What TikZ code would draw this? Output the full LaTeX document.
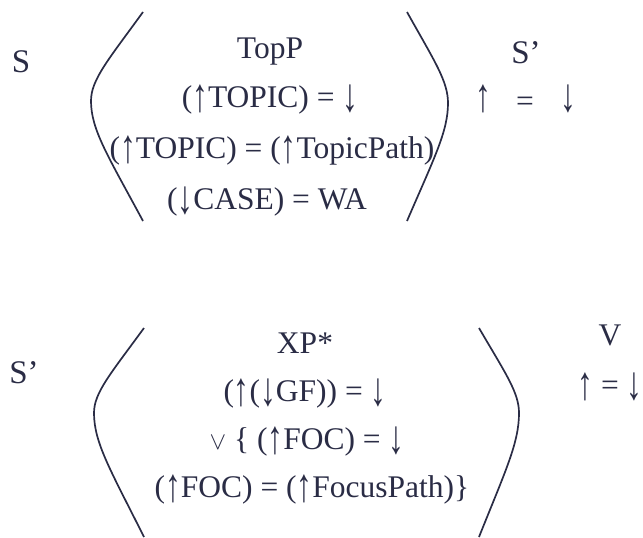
\documentclass[tikz,border=0pt]{standalone}
\usepackage{fontspec}
\usepackage{graphicx}
\setmainfont{Liberation Serif}
\definecolor{ink}{HTML}{2A2C45}
\newcommand{\UA}{\raisebox{-0.2em}{\resizebox*{\width}{0.89em}{\raisebox{\depth}{↑}}}}
\newcommand{\DA}{\raisebox{-0.2em}{\resizebox*{\width}{0.89em}{\raisebox{\depth}{↓}}}}
\newcommand{\parencurve}[5]{%
  \pgfmathsetmacro{\pcAx}{#1+0.67*(#3-#1)}%
  \pgfmathsetmacro{\pcAy}{#2+0.54*(#4-#2)}%
  \pgfmathsetmacro{\pcBy}{#4-0.24*(#4-#2)}%
  \pgfmathsetmacro{\pcCy}{#4+0.24*(#5-#4)}%
  \pgfmathsetmacro{\pcDy}{#5-0.54*(#5-#4)}%
  \draw[parenline] (#1,#2) .. controls (\pcAx,\pcAy) and (#3,\pcBy) .. (#3,#4)
     .. controls (#3,\pcCy) and (\pcAx,\pcDy) .. (#1,#5);%
}
\begin{document}
\begin{tikzpicture}[x=1pt,y=-1pt,
  lbl/.style={anchor=base,inner sep=0pt,text=ink,font=\fontsize{31.5}{36}\selectfont},
  cat/.style={lbl,font=\fontsize{33}{38}\selectfont},
  parenline/.style={draw=ink,line width=1.7pt}]
\useasboundingbox (0,0) rectangle (643,538);
% top block
\node[cat] (s) at (21,72) {S};
\parencurve{143}{12}{91}{101}{221}
\parencurve{407}{12}{448}{103}{221}
\node[lbl] (topp) at (270,58) {TopP};
\node[lbl] (t1) at (270,107) {(\UA TOPIC) = \DA};
\node[lbl] (t2) at (272,158) {(\UA TOPIC) = (\UA TopicPath)};
\node[lbl] (t3) at (267,209) {(\DA CASE) = WA};
\node[cat] (sp1) at (526,63) {S’};
\node[lbl] (up1) at (483,107) {\UA};
\node[lbl] (eq1) at (525,111) {=};
\node[lbl] (dn1) at (568,107) {\DA};
% bottom block
\node[cat] (sp2) at (24,383) {S’};
\parencurve{144}{328}{94}{413}{537}
\parencurve{479}{328}{519}{413}{537}
\node[lbl] (xp) at (305,353) {XP*};
\node[lbl] (b1) at (305,401) {(\UA(\DA GF)) = \DA};
\node[lbl] (b2) at (307,449) {$\vee$ \{ (\UA FOC) = \DA};
\node[lbl] (b3) at (312,497) {(\UA FOC) = (\UA FocusPath)\}};
\node[lbl] (v) at (610,345) {V};
\node[lbl] (e2) at (610,395) {\UA\ = \DA};
\end{tikzpicture}
\end{document}
